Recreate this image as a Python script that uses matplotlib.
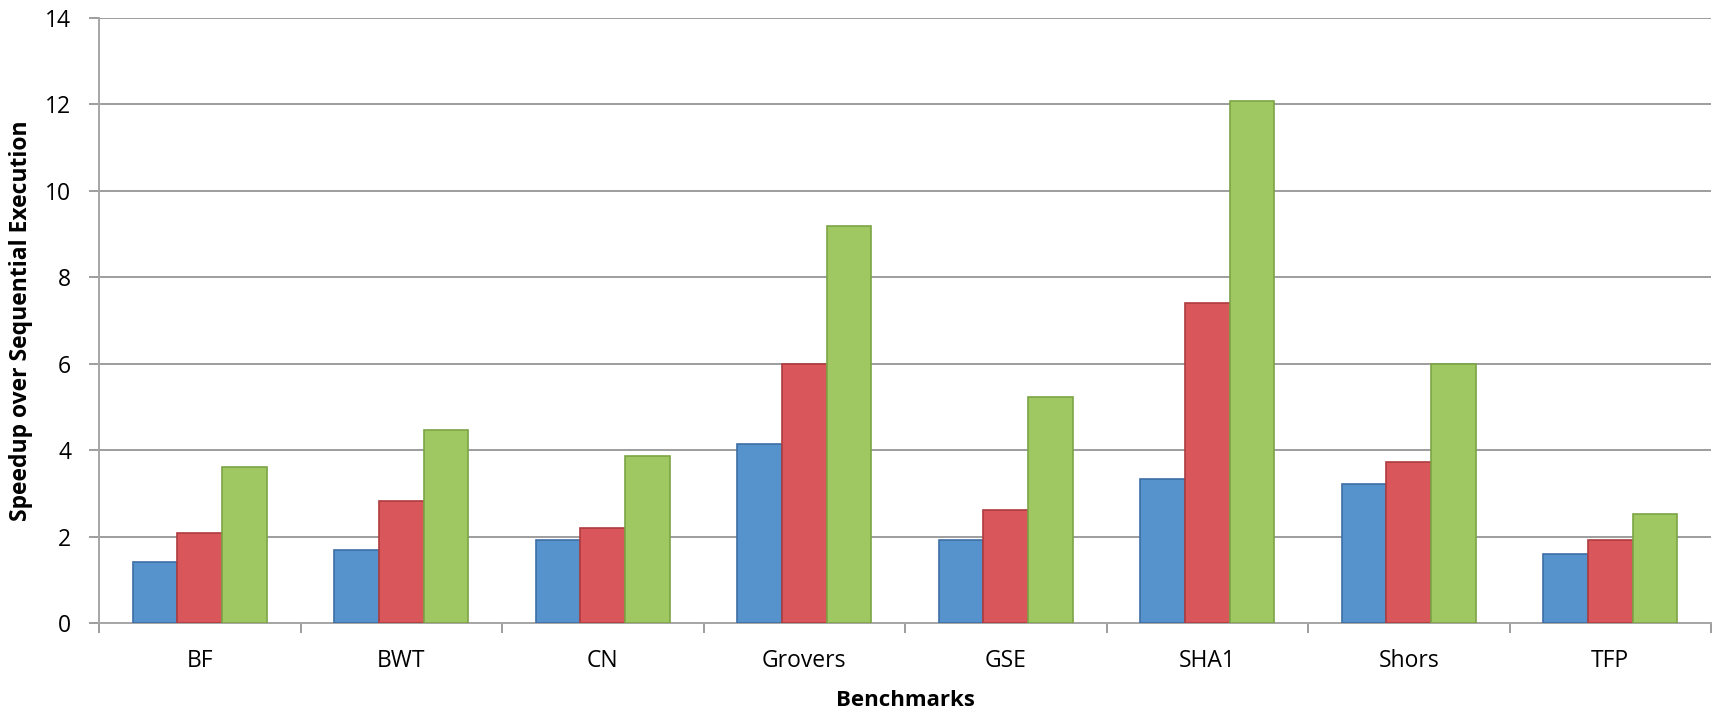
import matplotlib
matplotlib.use("Agg")
import matplotlib.pyplot as plt
import numpy as np

categories = ["BF", "BWT", "CN", "Grovers", "GSE", "SHA1", "Shors", "TFP"]
series_blue = [1.42, 1.68, 1.91, 4.13, 1.93, 3.34, 3.22, 1.60]
series_red = [2.09, 2.83, 2.19, 6.00, 2.61, 7.41, 3.72, 1.93]
series_green = [3.60, 4.46, 3.87, 9.19, 5.22, 12.08, 6.00, 2.53]
y_ticks = [0, 2, 4, 6, 8, 10, 12, 14]

plt.rcParams['font.family'] = ['Open Sans', 'DejaVu Sans']

fig = plt.figure(figsize=(17.17, 7.12), dpi=100)
ax = fig.add_axes([0.0577, 0.125, 0.9388, 0.8504])

x = np.arange(len(categories))
w = 1 / 4.5
colors = [("#5692CB", "#3E6EA6"), ("#D9575A", "#AE3C3F"), ("#9FC862", "#7DA446")]
for i, (vals, (fc, ec)) in enumerate(zip([series_blue, series_red, series_green], colors)):
    ax.bar(x + (i - 1) * w, vals, width=w, color=fc, edgecolor=ec, linewidth=1.2, zorder=3)

ax.set_xlim(-0.5, len(categories) - 0.5)
ax.set_ylim(0, 14)
ax.set_yticks(y_ticks)
ax.set_yticklabels([str(t) for t in y_ticks])
ax.yaxis.grid(True, color="#8C8C8C", linewidth=1.2, zorder=0)
ax.set_axisbelow(True)

ax.set_xticks(x)
ax.set_xticklabels(categories)
ax.set_xticks(np.arange(len(categories) + 1) - 0.5, minor=True)
ax.tick_params(axis="x", which="major", length=0, pad=19, labelsize=16.5)
ax.tick_params(axis="x", which="minor", length=7, color="#8C8C8C", width=1.2, direction="out")
ax.tick_params(axis="y", length=7, color="#8C8C8C", width=1.2, labelsize=16.5, pad=13)

for s in ["top", "right"]:
    ax.spines[s].set_visible(False)
for s in ["left", "bottom"]:
    ax.spines[s].set_color("#A6A6A6")
    ax.spines[s].set_linewidth(1.4)

ax.set_ylabel("Speedup over Sequential Execution", fontsize=16.5, fontweight="bold", labelpad=9)
ax.set_xlabel("Benchmarks", fontsize=16, fontweight="bold", labelpad=12)

fig.savefig("out.png", dpi=100)
